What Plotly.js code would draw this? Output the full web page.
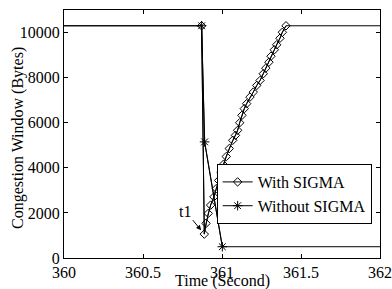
<!DOCTYPE html>
<html>
<head>
<meta charset="utf-8">
<script src="https://cdn.plot.ly/plotly-3.0.1.min.js"></script>
<style>html,body{margin:0;padding:0;background:#fff;}#chart{width:392px;height:289px;}</style>
</head>
<body>
<div id="chart"></div>
<script>
// Time (s) and congestion window (bytes)
const timeWith = [360, 360.871, 360.888, 360.899, 360.913, 360.928, 360.949, 360.964, 360.979, 360.994,
  361.008, 361.027, 361.046, 361.068, 361.085, 361.099, 361.112, 361.126, 361.141, 361.156,
  361.177, 361.198, 361.220, 361.241, 361.261, 361.277, 361.297, 361.310, 361.331, 361.346,
  361.367, 361.382, 361.405, 362];
const cwndWith = [10300, 10300, 1060, 1535, 1978, 2345, 2712, 3080, 3440, 3800,
  4146, 4500, 4854, 5221, 5440, 5664, 6000, 6327, 6624, 6845,
  7137, 7358, 7655, 7876, 8172, 8420, 8686, 8951, 9235, 9456,
  9748, 10013, 10300, 10300];
const timeWithout = [360, 360.871, 360.890, 361.002, 362];
const cwndWithout = [10300, 10300, 5150, 500, 500];
const seriesNames = ['With SIGMA', 'Without SIGMA'];
const xTicks = [360, 360.5, 361, 361.5, 362];
const yTicks = [0, 2000, 4000, 6000, 8000, 10000];
const annotText = 't1';
const xTitle = 'Time (Second)';
const yTitle = 'Congestion Window (Bytes)';

const FONT = 'Liberation Serif';
const lineStyle = {color: '#000', width: 1};
const f16 = () => ({family: FONT, size: 16, color: '#000'});

const traces = [
  {x: timeWith, y: cwndWith, mode: 'lines', line: lineStyle, showlegend: false, hoverinfo: 'skip'},
  {x: timeWithout, y: cwndWithout, mode: 'lines', line: lineStyle, showlegend: false, hoverinfo: 'skip'},
  {x: timeWith.slice(1, -1), y: cwndWith.slice(1, -1), mode: 'lines+markers', name: seriesNames[0],
   line: lineStyle, marker: {symbol: 'diamond-open', size: 6.5, color: '#000', line: {width: 1, color: '#000'}}},
  {x: timeWithout.slice(1, -1), y: cwndWithout.slice(1, -1), mode: 'lines+markers', name: seriesNames[1],
   line: lineStyle, marker: {symbol: 'asterisk-open', size: 8, color: '#000', line: {width: 1, color: '#000'}}}
];

const axisCommon = {
  showline: true, linecolor: '#000', linewidth: 1, mirror: 'ticks',
  ticks: 'inside', ticklen: 4, tickcolor: '#000', tickwidth: 1,
  showgrid: false, zeroline: false,
  tickfont: f16()
};

const layout = {
  width: 392, height: 289,
  margin: {l: 64, r: 12, t: 10, b: 31},
  paper_bgcolor: '#fff', plot_bgcolor: '#fff',
  xaxis: Object.assign({}, axisCommon, {range: [xTicks[0], xTicks[xTicks.length - 1]], tickvals: xTicks,
    ticktext: xTicks.map(String)}),
  yaxis: Object.assign({}, axisCommon, {range: [0, 11000], tickvals: yTicks, ticktext: yTicks.map(String)}),
  legend: {x: 0.483, y: 0.379, xanchor: 'left', yanchor: 'top', bgcolor: '#fff', bordercolor: '#000',
    borderwidth: 1, font: f16()},
  annotations: [
    {x: timeWith[2], y: cwndWith[2], text: annotText, showarrow: true, arrowhead: 2, arrowsize: 1,
     arrowwidth: 1, arrowcolor: '#000', ax: -19, ay: -23, standoff: 5, font: f16()},
    {xref: 'paper', yref: 'paper', x: 0.5, y: -0.0927, xanchor: 'center', yanchor: 'middle', showarrow: false,
     text: xTitle, font: f16()},
    {xref: 'paper', yref: 'paper', x: -0.1456, y: 0.484, xanchor: 'center', yanchor: 'middle', showarrow: false,
     textangle: -90, text: yTitle, font: f16()}
  ]
};

Plotly.newPlot('chart', traces, layout, {displayModeBar: false, staticPlot: true});
</script>
</body>
</html>
